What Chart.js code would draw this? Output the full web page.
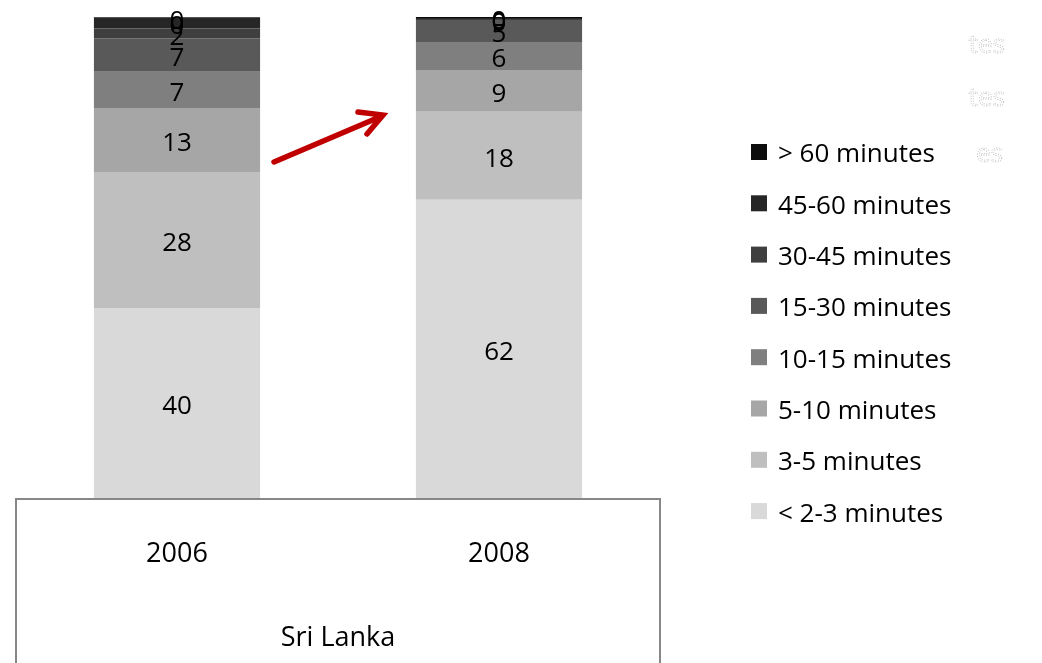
<!DOCTYPE html>
<html>
<head>
<meta charset="utf-8">
<script src="https://cdn.jsdelivr.net/npm/chart.js@4.4.1/dist/chart.umd.min.js"></script>
<style>
  body{margin:0;background:#fff;}
  #wrap{position:relative;width:1042px;height:663px;}
</style>
</head>
<body>
<div id="wrap"><canvas id="grafico"></canvas></div>
<script>
// categories and series (bottom to top of the stack)
const anos = ["2006", "2008"];
const faixas = ["< 2-3 minutes", "3-5 minutes", "5-10 minutes", "10-15 minutes",
                "15-30 minutes", "30-45 minutes", "45-60 minutes", "> 60 minutes"];
const cores = ["#d9d9d9", "#bfbfbf", "#a6a6a6", "#7f7f7f", "#595959", "#3f3f3f", "#262626", "#0d0d0d"];

// segment heights (percent)
const altura2006 = [39.5, 28.3, 13.3, 7.5, 7.0, 2.0, 2.3, 0.1];
const altura2008 = [62.0, 18.3, 8.7, 5.8, 4.6, 0.2, 0.2, 0.2];
// numbers printed on the segments
const rotulo2006 = ["40", "28", "13", "7", "7", "2", "0", "0"];
const rotulo2008 = ["62", "18", "9", "6", "5", "0", "0", "0"];

const titulo = "Sri Lanka";
const fonte = "'Open Sans', 'DejaVu Sans', sans-serif";

const datasets = faixas.map((nome, i) => ({
    label: nome,
    data: [altura2006[i], altura2008[i]],
    rotulos: [rotulo2006[i], rotulo2008[i]],
    backgroundColor: cores[i],
    borderWidth: 0,
    categoryPercentage: 1,
    barPercentage: 0.516
}));

// value labels, legend, axis box, arrow
const extras = {
    id: "extras",
    afterDatasetsDraw(chart){
        const ctx = chart.ctx;
        const area = chart.chartArea;
        ctx.save();

        // box round the category axis
        ctx.strokeStyle = "#878787";
        ctx.lineWidth = 2;
        ctx.strokeRect(area.left, area.bottom + 1, area.right - area.left, chart.height);

        // numbers on the segments
        ctx.font = "26px " + fonte;
        ctx.fillStyle = "#000";
        ctx.textAlign = "center";
        ctx.textBaseline = "middle";
        chart.data.datasets.forEach((ds, i) => {
            chart.getDatasetMeta(i).data.forEach((el, j) => {
                ctx.fillText(ds.rotulos[j], el.x, (el.y + el.base) / 2 + 4);
            });
        });

        // legend, top item is the last series
        ctx.textAlign = "left";
        const n = chart.data.datasets.length;
        for (let k = 0; k < n; k++){
            const ds = chart.data.datasets[n - 1 - k];
            const y = 152 + k * 51.3;
            ctx.fillStyle = ds.backgroundColor;
            ctx.fillRect(751, y - 8, 16, 16);
            ctx.fillStyle = "#000";
            ctx.fillText(ds.label, 778, y + 3);
        }

        // faint leftovers at the right edge
        ctx.textAlign = "right";
        ctx.strokeStyle = "#b8b8b8";
        ctx.lineWidth = 0.8;
        ctx.setLineDash([1, 1.5]);
        ctx.strokeText("tes", 1005, 46);
        ctx.strokeText("tes", 1005, 99);
        ctx.strokeText("es", 1003, 155);
        ctx.setLineDash([]);

        // red arrow between the bars
        ctx.strokeStyle = "#c00000";
        ctx.lineWidth = 5.5;
        ctx.lineCap = "round";
        ctx.beginPath();
        ctx.moveTo(274, 162);
        ctx.lineTo(382, 116);
        ctx.moveTo(358, 112);
        ctx.lineTo(383, 115);
        ctx.lineTo(367, 134);
        ctx.stroke();

        ctx.restore();
    }
};

new Chart(document.getElementById("grafico"), {
    type: "bar",
    data: { labels: anos, datasets: datasets },
    options: {
        responsive: true,
        maintainAspectRatio: false,
        animation: false,
        layout: { padding: { left: 16, right: 382, top: 17, bottom: 0 } },
        plugins: { legend: { display: false }, tooltip: { enabled: false } },
        scales: {
            x: {
                stacked: true,
                grid: { display: false, drawTicks: false },
                border: { display: false },
                ticks: { color: "#000", font: { family: fonte, size: 27 }, padding: 40 },
                title: { display: true, text: titulo, color: "#000",
                         font: { family: fonte, size: 27 }, padding: { top: 0, bottom: 8 } },
                afterFit(scale){ scale.height = 165; }
            },
            y: {
                stacked: true,
                display: false,
                min: 0,
                max: 100
            }
        }
    },
    plugins: [extras]
});
</script>
</body>
</html>
